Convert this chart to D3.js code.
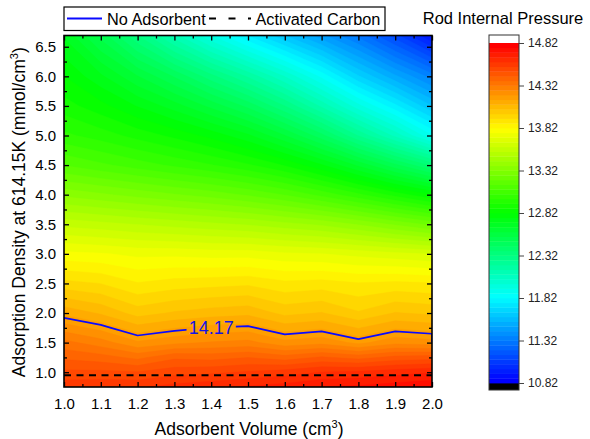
<!DOCTYPE html>
<html><head><meta charset="utf-8">
<script src="https://cdn.jsdelivr.net/npm/d3@7"></script>
<style>body{margin:0;background:#fff} svg{display:block;font-family:Arial,"Liberation Sans",sans-serif}</style>
</head><body><svg id="c" width="590" height="439"></svg>
<script>
// ---------- data ----------
const xValues = [1.0, 1.1, 1.2, 1.3, 1.4, 1.5, 1.6, 1.7, 1.8, 1.9, 2.0];
const yValues = [0.75, 1.0, 1.25, 1.5, 1.75, 2.0, 2.5, 3.0, 3.5, 4.0, 4.5, 5.0, 5.5, 6.0, 6.69];
const row075 = [14.58, 14.59, 14.59, 14.62, 14.64, 14.66, 14.68, 14.71, 14.72, 14.74, 14.76];
const row100 = [14.50, 14.50, 14.49, 14.52, 14.53, 14.55, 14.57, 14.60, 14.61, 14.63, 14.65];
const row125 = [14.42, 14.40, 14.36, 14.42, 14.41, 14.43, 14.40, 14.44, 14.41, 14.45, 14.46];
const row150 = [14.338, 14.29, 14.218, 14.25, 14.27, 14.282, 14.226, 14.246, 14.194, 14.246, 14.23];
const row175 = [14.238, 14.19, 14.118, 14.15, 14.172, 14.182, 14.126, 14.146, 14.094, 14.146, 14.13];
const row200 = [14.138, 14.09, 14.018, 14.05, 14.07, 14.082, 14.026, 14.046, 13.994, 14.046, 14.03];
const row250 = [13.95, 13.93, 13.88, 13.90, 13.91, 13.92, 13.89, 13.90, 13.88, 13.89, 13.88];
const row300 = [13.78, 13.77, 13.75, 13.75, 13.74, 13.74, 13.72, 13.71, 13.69, 13.67, 13.65];
const row350 = [13.58, 13.56, 13.54, 13.52, 13.50, 13.48, 13.45, 13.42, 13.37, 13.31, 13.25];
const row400 = [13.36, 13.33, 13.30, 13.27, 13.24, 13.20, 13.15, 13.08, 13.00, 12.91, 12.82];
const row450 = [13.15, 13.11, 13.07, 13.03, 12.99, 12.94, 12.87, 12.77, 12.64, 12.50, 12.36];
const row500 = [13.00, 12.96, 12.91, 12.86, 12.80, 12.72, 12.60, 12.45, 12.26, 12.08, 11.88];
const row550 = [12.90, 12.84, 12.76, 12.68, 12.58, 12.47, 12.32, 12.14, 11.95, 11.78, 11.60];
const row600 = [12.82, 12.72, 12.60, 12.48, 12.34, 12.20, 12.04, 11.86, 11.66, 11.50, 11.35];
const row669 = [12.70, 12.52, 12.32, 12.12, 11.93, 11.76, 11.60, 11.45, 11.30, 11.12, 10.92];
const pressureRows = [row075, row100, row125, row150, row175, row200, row250, row300,
                      row350, row400, row450, row500, row550, row600, row669];
const noAdsorbentPressure = 14.17;
const noAdsorbentLabel = "14.17";
const activatedCarbonDensity = 0.95;
const xTickValues = [1.0, 1.1, 1.2, 1.3, 1.4, 1.5, 1.6, 1.7, 1.8, 1.9, 2.0];
const xMinorTicks = [1.05, 1.15, 1.25, 1.35, 1.45, 1.55, 1.65, 1.75, 1.85, 1.95];
const yTickValues = [1.0, 1.5, 2.0, 2.5, 3.0, 3.5, 4.0, 4.5, 5.0, 5.5, 6.0, 6.5];
const yMinorTicks = [1.25, 1.75, 2.25, 2.75, 3.25, 3.75, 4.25, 4.75, 5.25, 5.75, 6.25];
const colorbarTicks = [10.82, 11.32, 11.82, 12.32, 12.82, 13.32, 13.82, 14.32, 14.82];
const minorLevelsPerMajor = 8;
const rainbowStops = ["#0000ff", "#00ffff", "#00ff00", "#ffff00", "#ff0000"];

// ---------- layout ----------
const svg = d3.select("#c");
const L = 64, R = 432, T = 35.5, B = 387;
const x = d3.scaleLinear().domain([1.0, 2.0]).range([L, R]);
const y = d3.scaleLinear().domain([0.75, 6.69]).range([B, T]);

const nx = xValues.length, ny = yValues.length;
const flat = [];
pressureRows.forEach(r => r.forEach(v => flat.push(v)));

// grid coordinate (contour space) -> data value
const gxDom = [0], gxRng = [xValues[0]];
xValues.forEach((v, i) => { gxDom.push(i + 0.5); gxRng.push(v); });
gxDom.push(nx); gxRng.push(xValues[nx - 1]);
const gyDom = [0], gyRng = [yValues[0]];
yValues.forEach((v, i) => { gyDom.push(i + 0.5); gyRng.push(v); });
gyDom.push(ny); gyRng.push(yValues[ny - 1]);
const gx = d3.scaleLinear().domain(gxDom).range(gxRng);
const gy = d3.scaleLinear().domain(gyDom).range(gyRng);
const px = p => [x(gx(p[0])), y(gy(p[1]))];

const proj = d3.geoTransform({ point(a, b) { const q = px([a, b]); this.stream.point(q[0], q[1]); } });
const path = d3.geoPath(proj);

// levels
const cbMin = colorbarTicks[0], cbMax = colorbarTicks[colorbarTicks.length - 1];
const nBands = (colorbarTicks.length - 1) * (minorLevelsPerMajor + 1);
const step = (cbMax - cbMin) / nBands;
const levels = d3.range(nBands).map(k => cbMin + k * step);
const rainbow = d3.scaleLinear().domain([0, .25, .5, .75, 1]).range(rainbowStops).interpolate(d3.interpolateRgb);
const bandColor = k => rainbow(k / (nBands - 1));

const defs = svg.append("defs");
defs.append("clipPath").attr("id", "plotclip").append("rect")
  .attr("x", L).attr("y", T).attr("width", R - L).attr("height", B - T);

const contours = d3.contours().size([nx, ny]).thresholds(levels)(flat);
svg.append("g").attr("clip-path", "url(#plotclip)")
  .selectAll("path").data(contours).join("path")
  .attr("d", path)
  .attr("fill", (d, i) => bandColor(i))
  .attr("stroke", (d, i) => bandColor(i)).attr("stroke-width", 0.4);

// ---------- No Adsorbent contour line ----------
const blue = d3.contours().size([nx, ny]).thresholds([noAdsorbentPressure])(flat)[0];
const lines = [];
const onEdge = (a, b) => (a[0] === 0 && b[0] === 0) || (a[0] === nx && b[0] === nx) ||
                         (a[1] === 0 && b[1] === 0) || (a[1] === ny && b[1] === ny);
blue.coordinates.forEach(poly => poly.forEach(ring => {
  const segs = []; let cur = [];
  for (let i = 0; i < ring.length - 1; i++) {
    const a = ring[i], b = ring[i + 1];
    if (onEdge(a, b)) { if (cur.length) { segs.push(cur); cur = []; } }
    else { if (!cur.length) cur.push(a); cur.push(b); }
  }
  if (cur.length) segs.push(cur);
  if (segs.length > 1) {
    const f = segs[0], l = segs[segs.length - 1];
    if (l[l.length - 1][0] === f[0][0] && l[l.length - 1][1] === f[0][1]) {
      segs[0] = l.concat(f.slice(1)); segs.pop();
    }
  }
  segs.forEach(s => lines.push(s.map(px)));
}));

const labelX = x(1.40), labelY = 328;
const mask = defs.append("mask").attr("id", "lblmask");
mask.append("rect").attr("x", 0).attr("y", 0).attr("width", 590).attr("height", 439).attr("fill", "#fff");
mask.append("rect").attr("x", x(1.333)).attr("y", labelY - 14).attr("width", x(1.467) - x(1.333)).attr("height", 28).attr("fill", "#000");

svg.append("g").attr("clip-path", "url(#plotclip)").append("g").attr("mask", "url(#lblmask)")
  .selectAll("path").data(lines).join("path")
  .attr("d", d3.line()).attr("fill", "none").attr("stroke", "#0a0aff").attr("stroke-width", 1.7)
  .attr("stroke-linejoin", "round");
svg.append("text").attr("x", labelX).attr("y", labelY).attr("dy", "0.36em")
  .attr("text-anchor", "middle").attr("font-size", 18).attr("fill", "#1414e6").text(noAdsorbentLabel);

// ---------- Activated Carbon line ----------
svg.append("line").attr("x1", x(1.0)).attr("x2", x(2.0))
  .attr("y1", y(activatedCarbonDensity)).attr("y2", y(activatedCarbonDensity))
  .attr("stroke", "#000").attr("stroke-width", 2).attr("stroke-dasharray", "7,5.5");

// ---------- axes ----------
function addAxis(gen, tr) {
  const g = svg.append("g").attr("transform", tr).call(gen);
  g.select(".domain").remove();
  g.selectAll(".tick line").attr("stroke", "#000").attr("stroke-width", 1.3);
  g.selectAll("text").attr("font-size", 15).attr("fill", "#000").attr("font-family", "Arial, 'Liberation Sans', sans-serif");
  return g;
}
addAxis(d3.axisBottom(x).tickValues(xTickValues).tickFormat(d3.format(".1f")).tickSize(-5).tickPadding(11), `translate(0,${B})`);
addAxis(d3.axisBottom(x).tickValues(xMinorTicks).tickFormat("").tickSize(-3), `translate(0,${B})`);
addAxis(d3.axisTop(x).tickValues(xTickValues).tickFormat("").tickSize(-5), `translate(0,${T})`);
addAxis(d3.axisTop(x).tickValues(xMinorTicks).tickFormat("").tickSize(-3), `translate(0,${T})`);
addAxis(d3.axisLeft(y).tickValues(yTickValues).tickFormat(d3.format(".1f")).tickSize(-5).tickPadding(8), `translate(${L},0)`);
addAxis(d3.axisLeft(y).tickValues(yMinorTicks).tickFormat("").tickSize(-3), `translate(${L},0)`);
addAxis(d3.axisRight(y).tickValues(yTickValues).tickFormat("").tickSize(-5), `translate(${R},0)`);
addAxis(d3.axisRight(y).tickValues(yMinorTicks).tickFormat("").tickSize(-3), `translate(${R},0)`);
svg.append("rect").attr("x", L).attr("y", T).attr("width", R - L).attr("height", B - T)
  .attr("fill", "none").attr("stroke", "#000").attr("stroke-width", 1.6);

// axis titles
const xt = svg.append("text").attr("x", (L + R) / 2 + 1).attr("y", 435).attr("text-anchor", "middle")
  .attr("font-size", 17.5).attr("fill", "#000");
xt.append("tspan").text("Adsorbent Volume (cm");
xt.append("tspan").attr("font-size", 11).attr("dy", -7).text("3");
xt.append("tspan").attr("dy", 7).text(")");

const yt = svg.append("text").attr("transform", `translate(24.5,${(T + B) / 2 + 1}) rotate(-90)`)
  .attr("text-anchor", "middle").attr("font-size", 17.5).attr("fill", "#000");
yt.append("tspan").text("Adsorption Density at 614.15K (mmol/cm");
yt.append("tspan").attr("font-size", 11).attr("dy", -7).text("3");
yt.append("tspan").attr("dy", 7).text(")");

// ---------- legend ----------
const lg = svg.append("g");
lg.append("rect").attr("x", 64).attr("y", 7).attr("width", 321).attr("height", 23.5)
  .attr("fill", "#fff").attr("stroke", "#000").attr("stroke-width", 1.2);
lg.append("line").attr("x1", 67).attr("x2", 102).attr("y1", 18.5).attr("y2", 18.5)
  .attr("stroke", "#0a0aff").attr("stroke-width", 1.8);
lg.append("text").attr("x", 107).attr("y", 24.5).attr("font-size", 16.3).text("No Adsorbent");
lg.append("line").attr("x1", 209).attr("x2", 251).attr("y1", 18.5).attr("y2", 18.5)
  .attr("stroke", "#000").attr("stroke-width", 2).attr("stroke-dasharray", "7,12.5");
lg.append("text").attr("x", 255.5).attr("y", 24.5).attr("font-size", 16.3).text("Activated Carbon");

// ---------- colorbar ----------
const cbL = 489, cbR = 519, cbTop = 35, cbBot = 390;
const cb = d3.scaleLinear().domain([cbMin, cbMax]).range([383, 43]);
svg.append("text").attr("x", 503).attr("y", 23.5).attr("text-anchor", "middle")
  .attr("font-size", 16.5).text("Rod Internal Pressure");
const cg = svg.append("g");
cg.append("rect").attr("x", cbL).attr("y", cbTop).attr("width", cbR - cbL).attr("height", cb(cbMax) - cbTop).attr("fill", "#fff");
cg.append("rect").attr("x", cbL).attr("y", cb(cbMin)).attr("width", cbR - cbL).attr("height", cbBot - cb(cbMin)).attr("fill", "#000");
cg.selectAll("rect.band").data(levels).join("rect").attr("class", "band")
  .attr("x", cbL).attr("width", cbR - cbL)
  .attr("y", d => cb(d + step)).attr("height", d => cb(d) - cb(d + step) + 0.4)
  .attr("fill", (d, i) => bandColor(i));
cg.append("rect").attr("x", cbL).attr("y", cbTop).attr("width", cbR - cbL).attr("height", cbBot - cbTop)
  .attr("fill", "none").attr("stroke", "#333").attr("stroke-width", 1);
const cax = svg.append("g").attr("transform", `translate(${cbR},0)`)
  .call(d3.axisRight(cb).tickValues(colorbarTicks).tickFormat(d3.format(".2f")).tickSize(5).tickPadding(4));
cax.select(".domain").remove();
cax.selectAll(".tick line").attr("stroke", "#444");
cax.selectAll("text").attr("font-size", 12).attr("fill", "#222").attr("font-family", "Arial, 'Liberation Sans', sans-serif");
</script></body></html>
